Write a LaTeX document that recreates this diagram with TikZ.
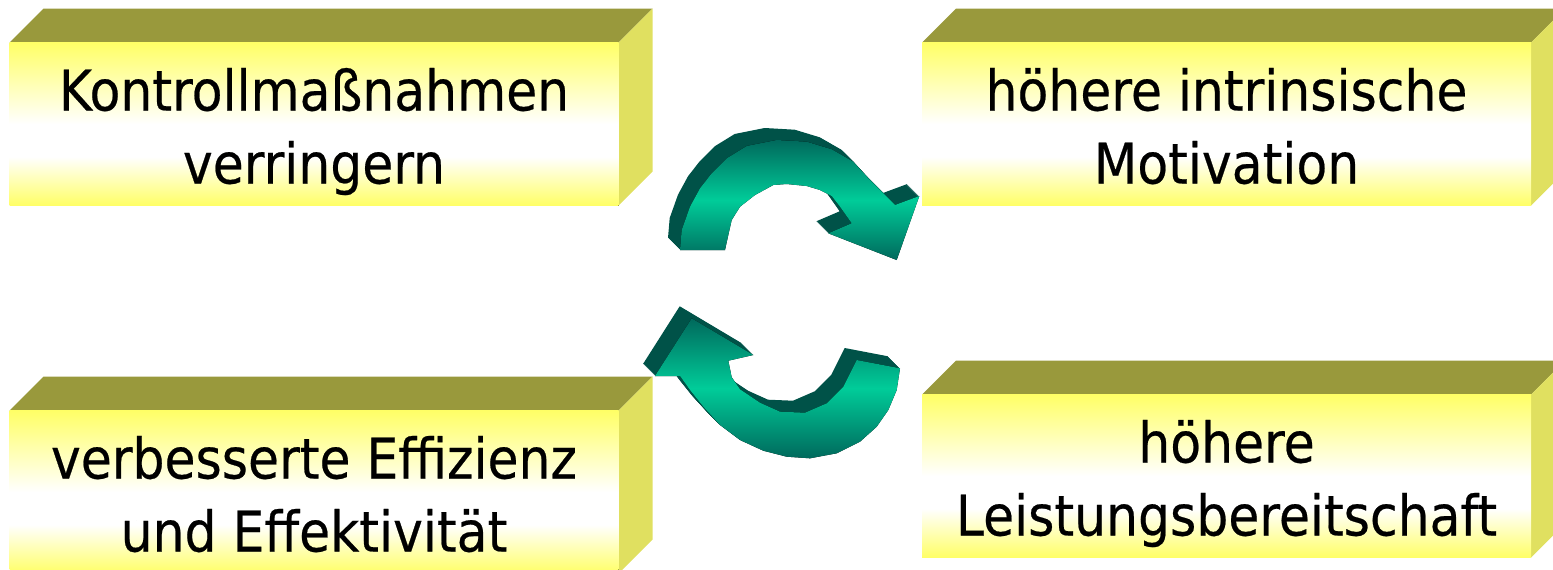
\documentclass[tikz,border=0pt]{standalone}
\usepackage{fontspec}
\setmainfont{DejaVu Sans}[FakeStretch=0.9, FakeBold=0.4]
\definecolor{boxyellow}{RGB}{255,255,102}
\definecolor{boxtop}{RGB}{153,153,60}
\definecolor{boxside}{RGB}{224,224,96}
\definecolor{arrowside}{RGB}{0,82,72}
\definecolor{arrowdark}{RGB}{0,105,92}
\definecolor{arrowlight}{RGB}{0,204,153}
% front of a slab: yellow at the edges, white a little below the middle
\pgfdeclareverticalshading{slabfront}{100bp}{
  color(0bp)=(boxyellow); color(25bp)=(boxyellow);
  color(40bp)=(white); color(50bp)=(white);
  color(75bp)=(boxyellow); color(100bp)=(boxyellow)}
\begin{document}
\begin{tikzpicture}[x=1pt,y=-1pt,
  boxtext/.style={inner sep=0pt, align=center, font=\fontsize{56}{73}\selectfont},
  arrowfront/.style={top color=arrowdark, bottom color=arrowdark, middle color=arrowlight}]
\useasboundingbox (0,0) rectangle (1553,570);
\clip (0,0) rectangle (1553,570);

% a slab: olive top, yellow side, shaded front, text on the front
\newcommand\slab[4]{%
  \fill[boxtop] (#1,#2) -- ++(34,-34) -- ++(609,0) -- ++(-34,34) -- cycle;
  \fill[boxside] (#1+609,#2) -- ++(34,-34) -- ++(0,163) -- ++(-34,34) -- cycle;
  \fill[shading=slabfront] (#1,#2) rectangle ++(609,163);
  \node[boxtext] (#3) at (#1+304.5,#2+89.9) {#4};
}

\slab{9.5}{42.5}{ctrl}{\strut Kontrollmaßnahmen\\\strut verringern}
\slab{922}{42.5}{motiv}{\strut höhere intrinsische\\\strut Motivation}
\slab{9.5}{410.5}{effiz}{\strut verbesserte Effizienz\\\strut und Effektivität}
\slab{922}{394.5}{leist}{\strut höhere\\\strut Leistungsbereitschaft}

% upper curved arrow, pointing to the right
\def\upperarrow{(680,250) -- (681.7,230) -- (690,206.7) -- (700,188.3)
  -- (711.7,173.3) -- (726.7,158.3) -- (746.7,146) -- (776.7,140)
  -- (806.7,141.7) -- (831.7,149.3) -- (853.3,161.7) -- (870,180)
  -- (895,205) -- (919.3,196) -- (896.7,260) -- (828.3,233.3)
  -- (851.7,223.3) -- (840,206.7) -- (831.7,196) -- (820,190)
  -- (806.7,186) -- (786.7,184) -- (773.3,185) -- (755,195)
  -- (740,206.7) -- (731.7,220) -- (728.3,235) -- (725,250) -- cycle}

% lower curved arrow, pointing to the left
\def\lowerarrow{(655,376) -- (691.7,318.3) -- (753.3,355) -- (728.3,360.7)
  -- (731.7,377.3) -- (740,389.3) -- (760,402.7) -- (780,411.7)
  -- (805,412.7) -- (826.7,403.3) -- (843.3,386.7) -- (856.7,360)
  -- (900,368.3) -- (896.7,390) -- (888.3,410) -- (876.7,426.7)
  -- (860,441.7) -- (836.7,453.3) -- (810,458.3) -- (786.7,456.7)
  -- (763.3,450.7) -- (740,440) -- (720,425) -- (703.3,406.7)
  -- (690,390) -- (680,376) -- cycle}

% extruded depth of both arrows
\foreach \k in {1,...,12} {
  \fill[arrowside, shift={(-\k,-\k)}] \upperarrow;
  \fill[arrowside, shift={(-\k,-\k)}] \lowerarrow;
}
\fill[arrowfront] \upperarrow;
\fill[arrowfront] \lowerarrow;
\end{tikzpicture}
\end{document}
